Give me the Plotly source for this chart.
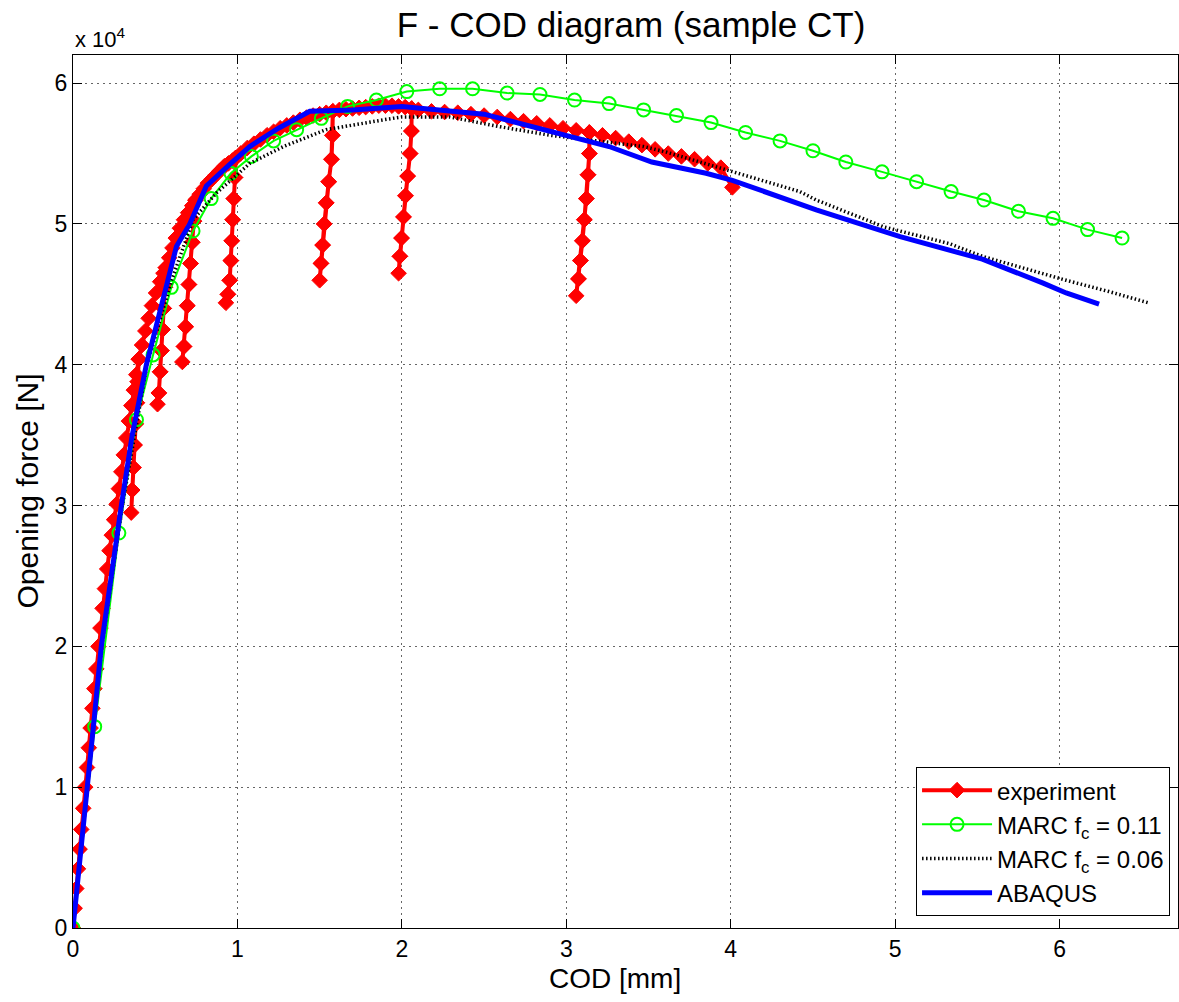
import plotly.graph_objects as go

# ---------------- data (COD in mm, force in 1e4 N) ----------------
# experiment: loading branches and unloading tails (top -> bottom)
exp_load1_x = [0, 0.01, 0.02, 0.03, 0.04, 0.05, 0.062, 0.074, 0.085, 0.096, 0.107, 0.118, 0.13, 0.142,
               0.155, 0.167, 0.18, 0.194, 0.208, 0.222, 0.236, 0.25, 0.265, 0.279, 0.294, 0.309,
               0.324, 0.34, 0.355, 0.37, 0.385, 0.4]
exp_load1_y = [0, 0.14, 0.28, 0.42, 0.56, 0.7, 0.85, 1.0, 1.14, 1.28, 1.42, 1.56, 1.7, 1.84,
               2.0, 2.13, 2.27, 2.41, 2.55, 2.68, 2.79, 2.9, 3.01, 3.12, 3.24, 3.36,
               3.48, 3.6, 3.71, 3.82, 3.93, 4.04]
exp_tail1_x = [0.394, 0.388, 0.381, 0.374, 0.367, 0.36, 0.354]
exp_tail1_y = [3.88, 3.73, 3.58, 3.43, 3.27, 3.11, 2.95]

exp_load2_x = [0.42, 0.44, 0.46, 0.48, 0.505, 0.53, 0.55, 0.565]
exp_load2_y = [4.14, 4.24, 4.33, 4.42, 4.51, 4.59, 4.65, 4.69]
exp_tail2_x = [0.559, 0.552, 0.545, 0.538, 0.53, 0.522, 0.514]
exp_tail2_y = [4.55, 4.4, 4.25, 4.1, 3.95, 3.8, 3.72]

exp_load3_x = [0.585, 0.605, 0.625, 0.65, 0.675, 0.7, 0.725, 0.745]
exp_load3_y = [4.76, 4.83, 4.9, 4.97, 5.03, 5.08, 5.13, 5.17]
exp_tail3_x = [0.735, 0.725, 0.715, 0.705, 0.695, 0.685, 0.675, 0.665]
exp_tail3_y = [5.02, 4.87, 4.72, 4.57, 4.42, 4.27, 4.13, 4.02]

exp_load4_x = [0.77, 0.795, 0.82, 0.845, 0.87, 0.895, 0.92, 0.945, 0.97, 0.99]
exp_load4_y = [5.21, 5.25, 5.29, 5.32, 5.35, 5.38, 5.41, 5.43, 5.45, 5.47]
exp_tail4_x = [0.985, 0.978, 0.971, 0.965, 0.96, 0.953, 0.942, 0.93]
exp_tail4_y = [5.33, 5.18, 5.03, 4.88, 4.74, 4.6, 4.5, 4.44]

exp_load5_x = [1.02, 1.06, 1.1, 1.14, 1.18, 1.22, 1.26, 1.3, 1.34, 1.38, 1.42, 1.46, 1.5, 1.54, 1.58]
exp_load5_y = [5.5, 5.54, 5.57, 5.6, 5.63, 5.655, 5.68, 5.7, 5.72, 5.74, 5.755, 5.77, 5.78, 5.79, 5.8]
exp_tail5_x = [1.578, 1.572, 1.555, 1.54, 1.528, 1.518, 1.508, 1.5]
exp_tail5_y = [5.63, 5.46, 5.3, 5.15, 5.0, 4.85, 4.72, 4.6]

exp_load6_x = [1.62, 1.66, 1.7, 1.74, 1.78, 1.82, 1.86, 1.9, 1.94, 1.98, 2.02, 2.06]
exp_load6_y = [5.81, 5.815, 5.82, 5.825, 5.83, 5.835, 5.84, 5.84, 5.84, 5.835, 5.83, 5.82]
exp_tail6_x = [2.058, 2.05, 2.035, 2.022, 2.01, 1.998, 1.988, 1.98]
exp_tail6_y = [5.66, 5.5, 5.34, 5.2, 5.05, 4.9, 4.77, 4.65]

exp_load7_x = [2.1, 2.18, 2.26, 2.34, 2.42, 2.5, 2.58, 2.66, 2.74, 2.82, 2.9, 2.98, 3.06, 3.14]
exp_load7_y = [5.81, 5.8, 5.795, 5.79, 5.78, 5.77, 5.76, 5.745, 5.73, 5.715, 5.7, 5.68, 5.665, 5.65]
exp_tail7_x = [3.14, 3.132, 3.122, 3.11, 3.098, 3.086, 3.074, 3.06]
exp_tail7_y = [5.5, 5.35, 5.18, 5.03, 4.88, 4.74, 4.61, 4.49]

exp_load8_x = [3.22, 3.3, 3.38, 3.46, 3.54, 3.62, 3.7, 3.78, 3.86, 3.94, 4.01]
exp_load8_y = [5.63, 5.61, 5.585, 5.56, 5.53, 5.5, 5.48, 5.46, 5.43, 5.4, 5.26]

# MARC f_c = 0.11 (green, circle markers)
marc11_x = [0, 0.132, 0.279, 0.386, 0.487, 0.598, 0.73, 0.84, 0.96, 1.085, 1.22, 1.36, 1.51, 1.67,
            1.845, 2.03, 2.23, 2.43, 2.64, 2.84, 3.05, 3.26, 3.47, 3.67, 3.88, 4.09, 4.3, 4.5,
            4.7, 4.92, 5.13, 5.34, 5.54, 5.75, 5.96, 6.17, 6.38]
marc11_y = [0, 1.43, 2.805, 3.61, 4.07, 4.55, 4.95, 5.18, 5.36, 5.48, 5.59, 5.67, 5.75, 5.835,
            5.88, 5.94, 5.96, 5.96, 5.93, 5.92, 5.88, 5.855, 5.81, 5.77, 5.72, 5.65, 5.59, 5.52,
            5.44, 5.37, 5.3, 5.23, 5.17, 5.09, 5.04, 4.96, 4.9]

# MARC f_c = 0.06 (black dotted)
marc06_x = [0, 0.09, 0.175, 0.3, 0.45, 0.6, 0.73, 0.872, 1.075, 1.28, 1.54, 1.89, 2.0, 2.29, 2.6,
            2.9, 3.2, 3.47, 3.61, 4.01, 4.42, 4.52, 4.93, 5.03, 5.33, 5.53, 6.04, 6.3, 6.54]
marc06_y = [0, 1.0, 2.0, 3.0, 4.0, 4.6, 5.03, 5.22, 5.43, 5.55, 5.67, 5.74, 5.76, 5.76, 5.69,
            5.63, 5.59, 5.55, 5.51, 5.37, 5.23, 5.17, 4.98, 4.95, 4.86, 4.77, 4.6, 4.52, 4.44]

# ABAQUS (blue)
abaqus_x = [0, 0.045, 0.091, 0.13, 0.172, 0.23, 0.294, 0.36, 0.446, 0.527, 0.629, 0.71, 0.811, 0.95,
            1.075, 1.25, 1.44, 1.7, 2.0, 2.5, 3.0, 3.26, 3.52, 3.85, 4.01, 4.52, 5.03, 5.53, 5.9,
            6.04, 6.24]
abaqus_y = [0, 0.5, 1.0, 1.5, 2.0, 2.5, 3.0, 3.5, 4.0, 4.37, 4.84, 5.0, 5.27, 5.42,
            5.55, 5.68, 5.8, 5.81, 5.835, 5.78, 5.63, 5.55, 5.44, 5.36, 5.31, 5.1, 4.91, 4.75, 4.58,
            4.51, 4.43]

x_ticks = [0, 1, 2, 3, 4, 5, 6]
y_ticks = [0, 1, 2, 3, 4, 5, 6]

# ---------------- assemble experiment path (load, unload tail, reload) ----------------
segments = [
    (exp_load1_x, exp_load1_y, exp_tail1_x, exp_tail1_y),
    (exp_load2_x, exp_load2_y, exp_tail2_x, exp_tail2_y),
    (exp_load3_x, exp_load3_y, exp_tail3_x, exp_tail3_y),
    (exp_load4_x, exp_load4_y, exp_tail4_x, exp_tail4_y),
    (exp_load5_x, exp_load5_y, exp_tail5_x, exp_tail5_y),
    (exp_load6_x, exp_load6_y, exp_tail6_x, exp_tail6_y),
    (exp_load7_x, exp_load7_y, exp_tail7_x, exp_tail7_y),
]
exp_x, exp_y = [], []
for lx, ly, tx, ty in segments:
    exp_x += lx + tx + tx[-2::-1] + [lx[-1]]
    exp_y += ly + ty + ty[-2::-1] + [ly[-1]]
exp_x += exp_load8_x
exp_y += exp_load8_y

FONT = "Liberation Sans, Arial, Helvetica, sans-serif"

fig = go.Figure()
fig.add_trace(go.Scatter(
    x=exp_x, y=exp_y, mode="lines+markers", name="experiment",
    line=dict(color="#FF0000", width=4),
    marker=dict(symbol="diamond", size=12, color="#FF0000", line=dict(width=1, color="#FF0000")),
))
fig.add_trace(go.Scatter(
    x=marc11_x, y=marc11_y, mode="lines+markers", name="MARC f<sub>c</sub> = 0.11",
    line=dict(color="#00FF00", width=2),
    marker=dict(symbol="circle-open", size=13, color="#00FF00", line=dict(width=2, color="#00FF00")),
))
fig.add_trace(go.Scatter(
    x=marc06_x, y=marc06_y, mode="lines", name="MARC f<sub>c</sub> = 0.06",
    line=dict(color="#000000", width=3.5, dash="1.5px,2.5px"),
))
fig.add_trace(go.Scatter(
    x=abaqus_x, y=abaqus_y, mode="lines", name="ABAQUS",
    line=dict(color="#0000FF", width=5),
))

axis_common = dict(
    showline=True, linecolor="black", linewidth=1, mirror="allticks",
    ticks="inside", ticklen=9, tickcolor="black", tickwidth=1,
    showgrid=True, gridcolor="#666666", gridwidth=1, griddash="2px,4px",
    zeroline=False, tickfont=dict(size=23, color="black", family=FONT),
)
fig.update_xaxes(range=[0, 6.72], tickvals=x_ticks, ticktext=[str(v) for v in x_ticks], **axis_common)
fig.update_yaxes(range=[0, 6.2], tickvals=y_ticks, ticktext=[str(v) for v in y_ticks], **axis_common)

fig.update_layout(
    width=1179, height=1002,
    margin=dict(l=73, r=1, t=55, b=74),
    paper_bgcolor="white", plot_bgcolor="white",
    font=dict(family=FONT, color="black"),
    title=dict(text="F - COD diagram (sample CT)", x=631 / 1179, xanchor="center",
               y=1 - 25 / 1002, yanchor="middle", font=dict(size=35, color="black", family=FONT)),
    legend=dict(x=0.9928, y=0.0137, xanchor="right", yanchor="bottom",
                bgcolor="white", bordercolor="black", borderwidth=1, itemwidth=70,
                font=dict(size=24, color="black", family=FONT), tracegroupgap=0),
    annotations=[
        dict(text="x 10<sup>4</sup>", xref="paper", yref="paper", x=0, y=1.02,
             xanchor="left", yanchor="middle", showarrow=False, font=dict(size=22, family=FONT)),
        dict(text="COD [mm]", xref="paper", yref="paper", x=(615 - 73) / 1105,
             y=(928.3 - 979) / 873,
             xanchor="center", yanchor="middle", showarrow=False, font=dict(size=28, family=FONT)),
        dict(text="Opening force [N]", xref="paper", yref="paper", x=(27 - 73) / 1105, y=0.5,
             xanchor="center", yanchor="middle", textangle=-90, showarrow=False,
             font=dict(size=30, family=FONT)),
    ],
    showlegend=True,
)

fig.write_html("out.html", config={"displayModeBar": False},
               post_script="document.body.style.margin='0px';")
